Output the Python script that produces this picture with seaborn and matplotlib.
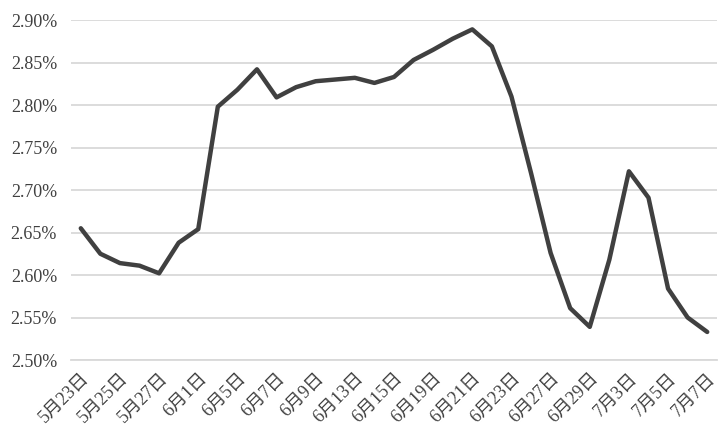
import numpy as np
import pandas as pd
import seaborn as sns
import matplotlib.pyplot as plt
from matplotlib.ticker import FixedLocator, FuncFormatter

dates = ["5月23日", "5月24日", "5月25日", "5月26日", "5月27日", "5月31日", "6月1日",
         "6月4日", "6月5日", "6月6日", "6月7日", "6月8日", "6月9日", "6月12日",
         "6月13日", "6月14日", "6月15日", "6月16日", "6月19日", "6月20日", "6月21日",
         "6月22日", "6月23日", "6月26日", "6月27日", "6月28日", "6月29日", "6月30日",
         "7月3日", "7月4日", "7月5日", "7月6日", "7月7日"]
rate = [2.655, 2.625, 2.614, 2.611, 2.602, 2.638, 2.654, 2.798, 2.818, 2.842,
        2.809, 2.821, 2.828, 2.830, 2.832, 2.826, 2.833, 2.853, 2.865, 2.878,
        2.889, 2.869, 2.810, 2.720, 2.626, 2.561, 2.539, 2.618, 2.722, 2.691,
        2.584, 2.550, 2.533]
yticks = [2.50, 2.55, 2.60, 2.65, 2.70, 2.75, 2.80, 2.85, 2.90]

sns.set_style("white")
plt.rcParams['font.family'] = ['Liberation Serif', 'Noto Sans CJK SC', 'DejaVu Sans']

df = pd.DataFrame({"pos": np.arange(len(dates)), "rate": rate})

fig = plt.figure(figsize=(7.26, 4.45), dpi=100)
ax = fig.add_axes([0.0978, 0.191, 0.8898, 0.764])
sns.lineplot(data=df, x="pos", y="rate", color="#404040", linewidth=3.2, ax=ax)

ax.set_xlim(-0.5, len(dates) - 0.5)
ax.set_ylim(2.50, 2.90)
ax.set_yticks(yticks)
ax.yaxis.set_major_formatter(FuncFormatter(lambda v, p: f"{v:.2f}%"))
ax.grid(axis="y", color="#d9d9d9", linewidth=1.3)
ax.set_axisbelow(True)

ax.set_xticks(np.arange(0, len(dates), 2))
ax.set_xticklabels(dates[::2], rotation=45, ha="right", rotation_mode="anchor")
ax.xaxis.set_minor_locator(FixedLocator(np.arange(-0.5, len(dates), 1)))
ax.tick_params(axis="x", which="major", length=0, pad=7, labelsize=13, labelcolor="#404040")
ax.tick_params(axis="x", which="minor", length=5, color="#d9d9d9", width=1.2)
ax.tick_params(axis="y", length=0, labelsize=13, labelcolor="#404040", pad=10)

for s in ["top", "right", "left"]:
    ax.spines[s].set_visible(False)
ax.spines["bottom"].set_color("#d9d9d9")
ax.spines["bottom"].set_linewidth(1.3)
ax.set_xlabel("")
ax.set_ylabel("")

fig.savefig("out.png", dpi=100)
